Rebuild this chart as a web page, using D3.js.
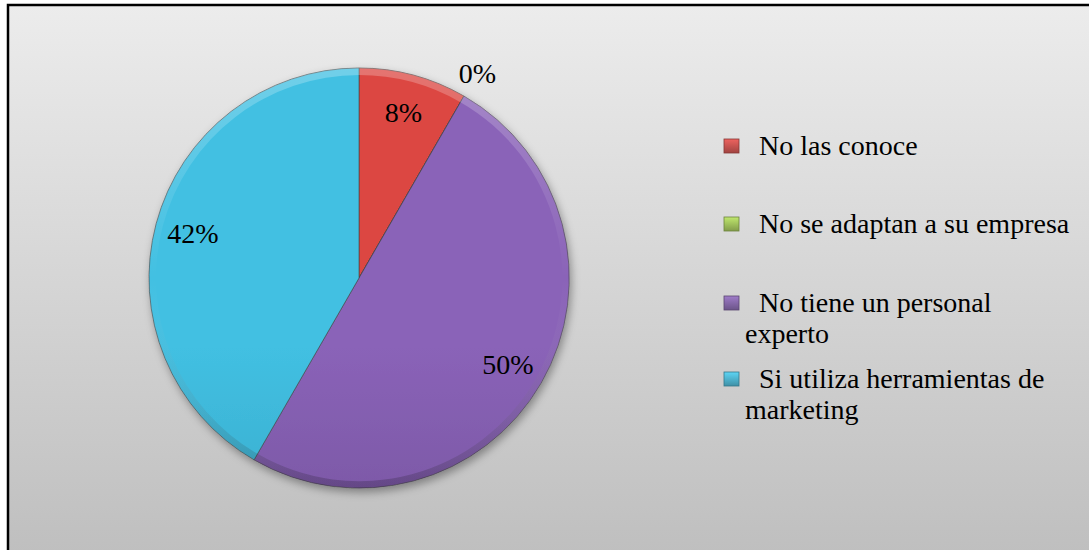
<!DOCTYPE html>
<html>
<head>
<meta charset="utf-8">
<script src="https://cdn.jsdelivr.net/npm/d3@7"></script>
<style>
  html, body { margin: 0; padding: 0; background: #fff; }
</style>
</head>
<body>
<script>
// data
var categories = ["No las conoce", "No se adaptan a su empresa", "No tiene un personal experto", "Si utiliza herramientas de marketing"];
var legendLines = [["No las conoce"], ["No se adaptan a su empresa"], ["No tiene un personal", "experto"], ["Si utiliza herramientas de", "marketing"]];
var values = [8.33, 0, 50, 41.67];

var topColors = ["#dc4742", "#a9c862", "#8a63b8", "#42c0e2"];
var bottomColors = ["#b53834", "#7f9a45", "#654689", "#2c93b2"];
var legendColors = ["#c0504d", "#9bbb59", "#8064a2", "#4bacc6"];

var serif = "'Liberation Serif', 'Times New Roman', Times, 'DejaVu Serif', serif";

var svgWidth = 1089, svgHeight = 550;
var cx = 359, cy = 278, radius = 210;

var svg = d3.select("body").append("svg")
    .attr("width", svgWidth)
    .attr("height", svgHeight);

var defs = svg.append("defs");

var bg = defs.append("linearGradient").attr("id", "bg")
    .attr("x1", 0).attr("y1", 0).attr("x2", 0).attr("y2", 1);
bg.append("stop").attr("offset", "0%").attr("stop-color", "#ececec");
bg.append("stop").attr("offset", "100%").attr("stop-color", "#bebebe");

var shadow = defs.append("filter").attr("id", "shadow")
    .attr("x", "-20%").attr("y", "-20%").attr("width", "140%").attr("height", "140%");
shadow.append("feDropShadow")
    .attr("dx", 2).attr("dy", 4).attr("stdDeviation", 4)
    .attr("flood-color", "#000").attr("flood-opacity", 0.35);

var rim = defs.append("linearGradient").attr("id", "rim")
    .attr("gradientUnits", "userSpaceOnUse")
    .attr("x1", 0).attr("y1", -radius).attr("x2", 0).attr("y2", radius);
rim.append("stop").attr("offset", "0%").attr("stop-color", "#fff").attr("stop-opacity", 0.25);
rim.append("stop").attr("offset", "50%").attr("stop-color", "#fff").attr("stop-opacity", 0);
rim.append("stop").attr("offset", "100%").attr("stop-color", "#000").attr("stop-opacity", 0.2);

topColors.forEach(function(c, i) {
  var g = defs.append("linearGradient").attr("id", "slice" + i)
      .attr("gradientUnits", "userSpaceOnUse")
      .attr("x1", 0).attr("y1", cy - radius).attr("x2", 0).attr("y2", cy + radius);
  g.append("stop").attr("offset", "0%").attr("stop-color", c);
  g.append("stop").attr("offset", "100%").attr("stop-color", bottomColors[i]);

  var m = defs.append("linearGradient").attr("id", "mark" + i)
      .attr("x1", 0).attr("y1", 0).attr("x2", 0).attr("y2", 1);
  m.append("stop").attr("offset", "0%").attr("stop-color", d3.color(legendColors[i]).brighter(0.6));
  m.append("stop").attr("offset", "100%").attr("stop-color", d3.color(legendColors[i]).darker(0.5));
});

// chart area with the black frame
svg.append("rect")
    .attr("x", 8).attr("y", 5)
    .attr("width", svgWidth + 10).attr("height", svgHeight + 10)
    .attr("fill", "url(#bg)")
    .attr("stroke", "#000")
    .attr("stroke-width", 2.5);

var pie = d3.pie().sort(null).value(function(d) { return d; });
var arcs = pie(values);

var arc = d3.arc().innerRadius(0).outerRadius(radius);
var bevel = d3.arc().innerRadius(radius - 7).outerRadius(radius);
var labelArc = d3.arc().innerRadius(172).outerRadius(172);
var outerLabelArc = d3.arc().innerRadius(237).outerRadius(237);

var g = svg.append("g").attr("transform", "translate(" + cx + "," + cy + ")");

g.append("g").attr("filter", "url(#shadow)")
  .selectAll("path")
  .data(arcs)
  .join("path")
    .attr("d", arc)
    .attr("fill", function(d, i) { return "url(#slice" + i + ")"; })
    .attr("stroke", "#444")
    .attr("stroke-opacity", 0.6)
    .attr("stroke-width", 1);

// soft bevel on the rim
g.selectAll("path.bevel")
  .data(arcs.filter(function(d) { return d.value > 0; }))
  .join("path")
    .attr("class", "bevel")
    .attr("d", bevel)
    .attr("fill", "url(#rim)");

var pct = d3.format(".0f");
g.selectAll("text.lbl")
  .data(arcs)
  .join("text")
    .attr("class", "lbl")
    .attr("transform", function(d) {
      var p = d.value > 0 ? labelArc.centroid(d) : outerLabelArc.centroid(d);
      return "translate(" + p[0] + "," + p[1] + ")";
    })
    .attr("text-anchor", "middle")
    .attr("dy", "0.35em")
    .style("font-family", serif)
    .style("font-size", "28px")
    .style("fill", "#000")
    .text(function(d) { return pct(d.value) + "%"; });

// legend
var legendY = [155, 233, 312, 388];
var legend = svg.append("g");
var items = legend.selectAll("g")
  .data(categories)
  .join("g")
    .attr("transform", function(d, i) { return "translate(0," + legendY[i] + ")"; });

items.append("rect")
    .attr("x", 724).attr("y", -16)
    .attr("width", 15).attr("height", 14)
    .attr("fill", function(d, i) { return "url(#mark" + i + ")"; })
    .attr("stroke", function(d, i) { return d3.color(legendColors[i]).darker(1); })
    .attr("stroke-width", 0.8);

items.each(function(d, i) {
  var t = d3.select(this).append("text")
      .style("font-family", serif)
      .style("font-size", "28px")
      .style("fill", "#000");
  legendLines[i].forEach(function(line, j) {
    t.append("tspan")
      .attr("x", j === 0 ? 759 : 745)
      .attr("y", j * 30.5)
      .text(line);
  });
});
</script>
</body>
</html>
